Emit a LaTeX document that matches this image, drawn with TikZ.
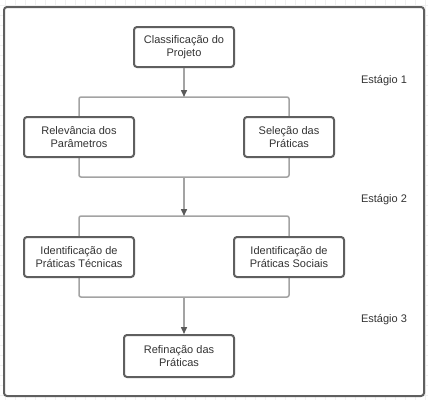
\documentclass[tikz,border=0pt]{standalone}
\usepackage{fontspec}
\setmainfont{Liberation Sans}
\usetikzlibrary{arrows.meta}
\definecolor{boxgray}{HTML}{5F5F5F}
\definecolor{linegray}{HTML}{A3A3A3}
\definecolor{tipgray}{HTML}{5A5A5A}
\definecolor{textgray}{HTML}{333333}
\begin{document}
\begin{tikzpicture}[x=1pt,y=-1pt]
 \tikzset{stagebox/.style={draw=boxgray, line width=2pt, rounded corners=3pt, fill=white,
   minimum height=40pt, align=center, text=textgray, font=\fontsize{11}{13.3}\selectfont}}
 \tikzset{bracket/.style={draw=linegray, line width=1.5pt, rounded corners=2pt}}
 \tikzset{flow/.style={draw=linegray, line width=1.5pt, -{Triangle[length=7pt,width=6pt,color=tipgray]}}}
 \tikzset{stagelabel/.style={text=textgray, font=\fontsize{11}{13.3}\selectfont}}
  \useasboundingbox (0,0) rectangle (428,400);
  % background grid
  \foreach \gx in {5,15,...,425} \draw[gray!12, line width=0.5pt] (\gx,0) -- (\gx,400);
  \foreach \gy in {5,15,...,395} \draw[gray!12, line width=0.5pt] (0,\gy) -- (428,\gy);
  \draw[boxgray, line width=2pt, rounded corners=3pt, fill=white] (4,7) rectangle (424,396);
  % brackets
  \coordinate (b1nw) at (79,97);
  \coordinate (b1se) at (289,177);
  \coordinate (b2nw) at (79,216);
  \coordinate (b2se) at (289,297);
  \draw[bracket] (b1nw) rectangle (b1se);
  \draw[bracket] (b2nw) rectangle (b2se);
  % boxes
  \node[stagebox, minimum width=100pt] (class) at (184,47) {Classificação do\\Projeto};
  \node[stagebox, minimum width=110pt] (relev) at (79,137) {Relevância dos\\Parâmetros};
  \node[stagebox, minimum width=90pt] (selec) at (289,137) {Seleção das\\Práticas};
  \node[stagebox, minimum width=110pt] (tecn) at (79,257) {Identificação de\\Práticas Técnicas};
  \node[stagebox, minimum width=110pt] (soc) at (289,257) {Identificação de\\Práticas Sociais};
  \node[stagebox, minimum width=110pt, minimum height=42pt] (refin) at (179,356) {Refinação das\\Práticas};
  % stages
  \node[stagelabel] (stage1) at (384,81) {Estágio 1};
  \node[stagelabel] (stage2) at (384,200) {Estágio 2};
  \node[stagelabel] (stage3) at (384,320) {Estágio 3};
  % arrows
  \draw[flow] (class.south) -- (class |- b1nw);
  \draw[flow] (class |- b1se) -- (class |- b2nw);
  \draw[flow] (class |- b2se) -- (class |- refin.north);
\end{tikzpicture}
\end{document}
